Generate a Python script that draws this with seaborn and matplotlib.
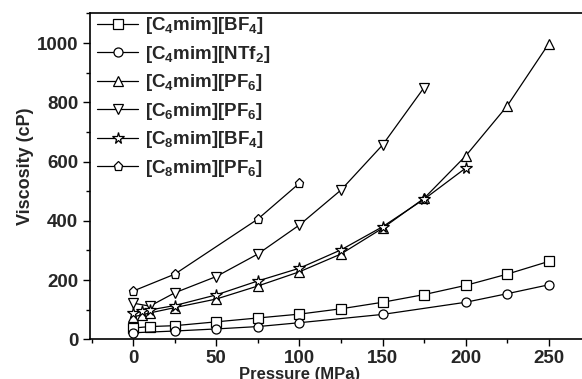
import matplotlib
matplotlib.use("Agg")
import matplotlib.pyplot as plt
import seaborn as sns
import pandas as pd
from matplotlib.ticker import MultipleLocator

sns.set_theme(style="ticks")
plt.rcParams['font.family'] = ['Liberation Sans', 'DejaVu Sans']
plt.rcParams['font.weight'] = 'bold'
plt.rcParams['mathtext.fontset'] = 'custom'
plt.rcParams['mathtext.rm'] = 'Liberation Sans:bold'
plt.rcParams['mathtext.default'] = 'rm'

labels = [r'[C$_4$mim][BF$_4$]', r'[C$_4$mim][NTf$_2$]', r'[C$_4$mim][PF$_6$]',
          r'[C$_6$mim][PF$_6$]', r'[C$_8$mim][BF$_4$]', r'[C$_8$mim][PF$_6$]']
markers = ['s', 'o', '^', 'v', '*', 'p']

p_c4bf4 = [0, 10, 25, 50, 75, 100, 125, 150, 175, 200, 225, 250]
v_c4bf4 = [38, 43, 46, 59, 72, 85, 103, 125, 151, 182, 220, 263]
p_c4ntf2 = [0, 25, 50, 75, 100, 150, 200, 225, 250]
v_c4ntf2 = [22, 28, 35, 43, 56, 84, 125, 154, 184]
p_c4pf6 = [0, 5, 10, 25, 50, 75, 100, 125, 150, 175, 200, 225, 250]
v_c4pf6 = [76, 82, 89, 107, 136, 180, 228, 288, 375, 476, 619, 788, 998]
p_c6pf6 = [0, 10, 25, 50, 75, 100, 125, 150, 175]
v_c6pf6 = [122, 112, 157, 212, 288, 386, 504, 656, 850]
p_c8bf4 = [0, 5, 10, 25, 50, 75, 100, 125, 150, 175, 200]
v_c8bf4 = [88, 95, 99, 114, 150, 197, 240, 302, 380, 473, 578]
p_c8pf6 = [0, 25, 75, 100]
v_c8pf6 = [163, 220, 406, 527]

series = [(p_c4bf4, v_c4bf4), (p_c4ntf2, v_c4ntf2), (p_c4pf6, v_c4pf6),
          (p_c6pf6, v_c6pf6), (p_c8bf4, v_c8bf4), (p_c8pf6, v_c8pf6)]

fig = plt.figure(figsize=(5.82, 3.79), dpi=100)
ax = fig.add_axes([90/582, 39.7/379, 1 - 90/582, (339.3-13.5)/379])

for (p, v), lab, m in zip(series, labels, markers):
    df = pd.DataFrame({'Pressure': p, 'Viscosity': v})
    ms = 8.5 if m == '*' else 6.5
    sns.lineplot(data=df, x='Pressure', y='Viscosity', ax=ax, color='black',
                 marker=m, markersize=ms, markerfacecolor='white',
                 markeredgecolor='black', markeredgewidth=0.9,
                 linewidth=0.9, label=lab)

ax.set_xlim(-26, 270)
ax.set_ylim(0, 1100)
ax.xaxis.set_major_locator(MultipleLocator(50))
ax.xaxis.set_minor_locator(MultipleLocator(25))
ax.yaxis.set_major_locator(MultipleLocator(200))
ax.yaxis.set_minor_locator(MultipleLocator(100))
ax.tick_params(which='major', direction='out', length=5, width=1, labelsize=13.5, color='black')
ax.tick_params(axis='x', which='major', pad=2.5)
ax.tick_params(which='minor', direction='out', length=3, width=1, color='black')
for t in ax.get_xticklabels() + ax.get_yticklabels():
    t.set_fontweight('bold')
for s in ['left', 'bottom', 'top']:
    ax.spines[s].set_color('black')
    ax.spines[s].set_linewidth(1.2)
ax.spines['right'].set_visible(False)

ax.set_xlabel('Pressure (MPa)', fontsize=12, fontweight='bold')
ax.xaxis.set_label_coords((300 - 90) / (582 - 90), -(367 - 339.3) / (339.3 - 13.5))
ax.set_ylabel('Viscosity (cP)', fontsize=13, fontweight='bold')
ax.yaxis.set_label_coords(-(90 - 34) / (582 - 90), 0.53)

leg = ax.legend(loc='upper left', bbox_to_anchor=(-0.012, 1.035), frameon=False,
                fontsize=13.5, handlelength=2.2, handletextpad=0.35,
                labelspacing=0.4, borderaxespad=0.3)
for txt in leg.get_texts():
    txt.set_fontweight('bold')

fig.savefig('out.png', dpi=100)
